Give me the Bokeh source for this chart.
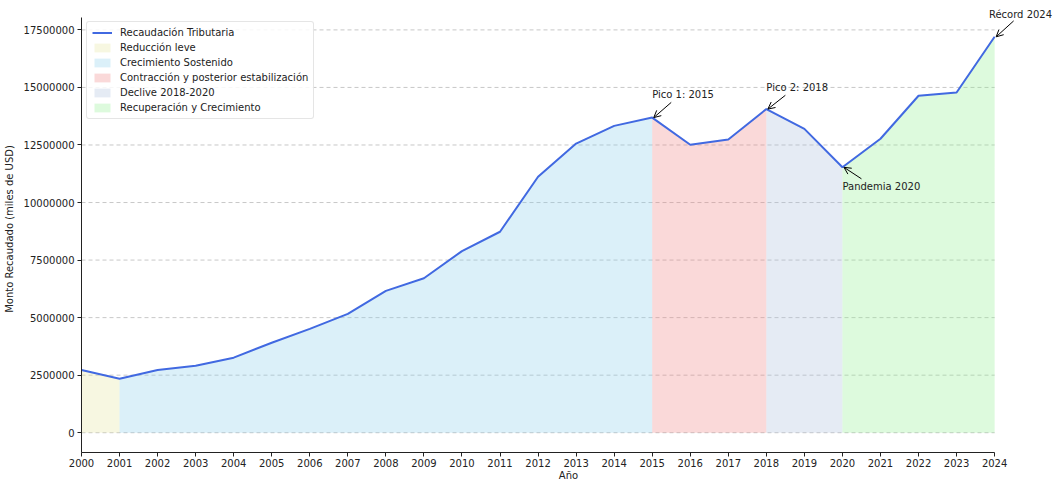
from bokeh.plotting import figure
from bokeh.models import (Range1d, NumeralTickFormatter, FixedTicker, Legend, LegendItem,
                          Label, Arrow, OpenHead)
from bokeh.embed import file_html
from bokeh.resources import INLINE

# ---------------- data ----------------
years = list(range(2000, 2025))
recaudacion = [2720000, 2340000, 2720000, 2910000, 3260000, 3910000, 4510000, 5160000,
               6160000, 6710000, 7890000, 8730000, 11120000, 12560000, 13330000, 13690000,
               12510000, 12740000, 14060000, 13200000, 11530000, 12770000, 14640000,
               14780000, 17200000]

period_names = ["Reducción leve", "Crecimiento Sostenido", "Contracción y posterior estabilización",
                "Declive 2018-2020", "Recuperación y Crecimiento"]
period_start = [2000, 2001, 2015, 2018, 2020]
period_end = [2001, 2015, 2018, 2020, 2024]
period_colors = ["#e6e39b", "#87ceeb", "#f08080", "#a9bddb", "#90ee90"]

annot_years = [2015, 2018, 2020, 2024]
annot_texts = ["Pico 1: 2015", "Pico 2: 2018", "Pandemia 2020", "Récord 2024"]
annot_text_dy = [1010000, 940000, -840000, 990000]
annot_text_dx = [0, 0, 0, -0.15]
annot_arrow_dy = [660000, 600000, -500000, 690000]

y_ticks = [0, 2500000, 5000000, 7500000, 10000000, 12500000, 15000000, 17500000]

FONT = "DejaVu Sans"
TXT = "#222222"

# ---------------- figure ----------------
vmax = max(recaudacion)
ymin, ymax = -0.05 * vmax, vmax * 1.05
# extra room (right and top) keeps the "Récord" note inside the drawing frame;
# axes are bounded to the real data extent
p = figure(width=1055, height=483, output_backend="svg", toolbar_location=None,
           x_range=Range1d(years[0], years[-1] + 1.6),
           y_range=Range1d(ymin, ymax + 500000),
           min_border_left=81, min_border_right=0, min_border_top=5, min_border_bottom=0)

p.outline_line_color = None
p.xgrid.grid_line_color = None
p.ygrid.grid_line_color = None

# horizontal dashed grid limited to the data years
p.segment(x0=[years[0]] * len(y_ticks), x1=[years[-1]] * len(y_ticks), y0=y_ticks, y1=y_ticks,
          line_color="#b0b0b0", line_dash="4 3", line_alpha=0.7, line_width=1)

p.xaxis.ticker = FixedTicker(ticks=years)
p.xaxis.bounds = (years[0], years[-1])
p.yaxis.ticker = FixedTicker(ticks=y_ticks)
p.yaxis.bounds = (ymin, ymax)
p.yaxis.formatter = NumeralTickFormatter(format="0")
for ax in (p.xaxis, p.yaxis):
    ax.minor_tick_line_color = None
    ax.major_tick_in = 0
    ax.major_tick_out = 4
    ax.major_label_text_font = FONT
    ax.major_label_text_font_size = "10px"
    ax.major_label_text_color = TXT
    ax.axis_label_text_font = FONT
    ax.axis_label_text_font_size = "10px"
    ax.axis_label_text_font_style = "normal"
    ax.axis_label_text_color = TXT
    ax.axis_line_color = "#222222"
    ax.major_tick_line_color = "#222222"
    ax.major_label_standoff = 2
    ax.axis_label_standoff = 0
p.xaxis.axis_label = "Año"
p.yaxis.axis_label = "Monto Recaudado (miles de USD)"
p.yaxis.major_label_standoff = 3
p.yaxis.axis_label_standoff = 6

# ---------------- period fills ----------------
fill_renderers = []
for name, s, e, c in zip(period_names, period_start, period_end, period_colors):
    i0, i1 = years.index(s), years.index(e)
    xs = years[i0:i1 + 1]
    ys = recaudacion[i0:i1 + 1]
    r = p.varea(x=xs, y1=[0] * len(xs), y2=ys, fill_color=c, fill_alpha=0.3)
    fill_renderers.append(r)

line_r = p.line(years, recaudacion, line_color="#4169E1", line_width=2)

# ---------------- legend ----------------
items = [LegendItem(label="Recaudación Tributaria", renderers=[line_r])]
for name, r in zip(period_names, fill_renderers):
    items.append(LegendItem(label=name, renderers=[r]))
legend = Legend(items=items, location=(5, 333))
legend.label_text_font = FONT
legend.label_text_font_size = "10px"
legend.label_text_color = TXT
legend.label_height = 11
legend.glyph_height = 11
legend.glyph_width = 20
legend.spacing = 4
legend.padding = 5
legend.margin = 0
legend.label_standoff = 8
legend.border_line_color = "#cccccc"
legend.border_radius = 3
legend.background_fill_alpha = 0.85
p.add_layout(legend)

# ---------------- annotations ----------------
for yr, txt, tdx, tdy, ady in zip(annot_years, annot_texts, annot_text_dx, annot_text_dy, annot_arrow_dy):
    val = recaudacion[years.index(yr)]
    p.add_layout(Label(x=yr + tdx, y=val + tdy, text=txt, text_font=FONT, text_font_size="10px",
                       text_color=TXT, text_align="left", text_baseline="middle"))
    p.add_layout(Arrow(end=OpenHead(size=7, line_width=1, line_color="black"),
                       x_start=yr + 0.5, y_start=val + ady, x_end=yr + 0.04, y_end=val,
                       line_width=1, line_color="black"))

open("out.html", "w").write(file_html(p, INLINE))
